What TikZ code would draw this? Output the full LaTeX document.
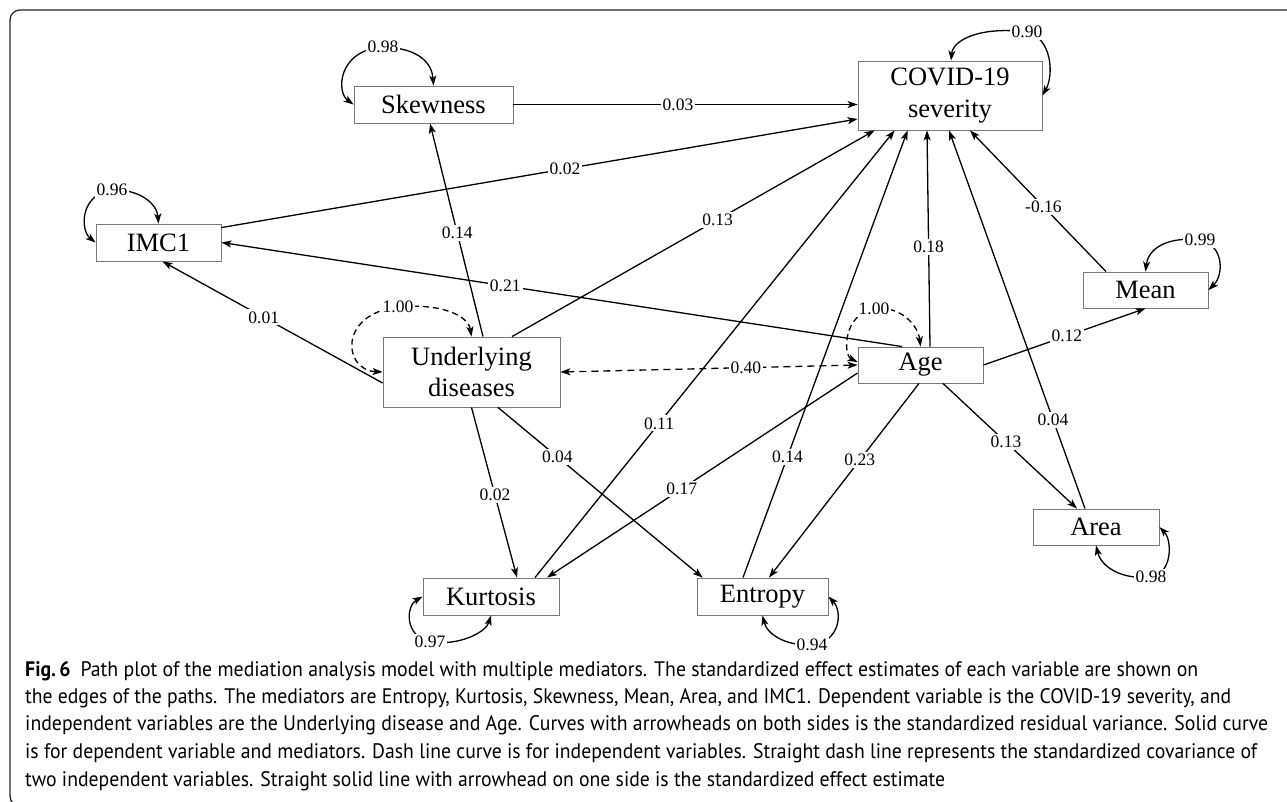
\documentclass[tikz,border=0pt]{standalone}
\usepackage{fontspec}
\setmainfont{Liberation Serif}
\newfontfamily\capfont{PT Sans}
\usepackage{graphicx}
\usetikzlibrary{arrows.meta,calc}
\tikzset{
  vbox/.style={draw={rgb,255:red,120;green,120;blue,120}, line width=0.9pt, inner sep=0pt, align=center, font=\fontsize{26.5}{31.5}\selectfont},
  lbl/.style={fill=white, inner sep=2pt, font=\fontsize{17.5}{20}\selectfont},
  eff/.style={line width=1.3pt, -{Stealth[length=10pt,width=7pt,inset=2.5pt]}},
  cov/.style={line width=1.3pt, dash pattern=on 7pt off 5pt, {Stealth[length=10pt,width=7pt,inset=2.5pt]}-{Stealth[length=10pt,width=7pt,inset=2.5pt]}},
  rv/.style={line width=1.3pt, {Stealth[length=10pt,width=7pt,inset=2.5pt]}-{Stealth[length=10pt,width=7pt,inset=2.5pt]}},
  drv/.style={rv, dash pattern=on 6pt off 4pt},
  capline/.style={anchor=base west, inner sep=0pt},
  frame/.style={line width=1.3pt, draw={rgb,255:red,40;green,40;blue,40}, rounded corners=10pt}
}
\begin{document}
\begin{tikzpicture}[x=1pt,y=-1pt]
\useasboundingbox (0,0) rectangle (1287,801);
\begin{scope}
\clip (0,0) rectangle (1287,801);
\draw[frame] (10,10) rectangle (1320,806);
\end{scope}

% nodes
\node[vbox, minimum width=184pt, minimum height=69pt] (c) at (950,95.5) {COVID-19\\severity};
\node[vbox, minimum width=159pt, minimum height=37pt] (s) at (433.5,104.5) {Skewness};
\node[vbox, minimum width=125pt, minimum height=37pt] (i) at (158.5,242.5) {IMC1};
\node[vbox, minimum width=177pt, minimum height=70pt] (u) at (471.5,372) {Underlying\\diseases};
\node[vbox, minimum width=125pt, minimum height=36pt] (a) at (920.5,365) {Age};
\node[vbox, minimum width=125pt, minimum height=36pt] (m) at (1145.5,290) {Mean};
\node[vbox, minimum width=126pt, minimum height=36pt] (ar) at (1096,527) {Area};
\node[vbox, minimum width=136pt, minimum height=37pt] (k) at (491,596.5) {Kurtosis};
\node[vbox, minimum width=131pt, minimum height=37pt] (e) at (762.5,596.5) {Entropy};

% effects
\draw[eff] (s.east) -- node[lbl,pos=0.478]{0.03} (c.west |- s.east);
\draw[eff] ([yshift=-4pt]i.north east) -- node[lbl,pos=0.54]{0.02} ([yshift=-23.5pt]c.west);
\draw[eff] ([xshift=-18.5pt]a.north) -- node[lbl,pos=0.583]{0.21} (i.east);
\draw[eff] ([yshift=-11pt]u.west) -- node[lbl,pos=0.54]{0.01} ([xshift=4pt]i.south);
\draw[eff] ([xshift=11.5pt]u.north) -- node[lbl,pos=0.486]{0.14} ([xshift=-3.5pt]s.south);
\draw[eff] ([xshift=40.5pt]u.north) -- node[lbl,pos=0.567]{0.13} ([xshift=17pt]c.south west);
\draw[cov] (u.east) -- node[lbl,pos=0.624]{0.40} (a.west);
\draw[eff] ([xshift=44pt]k.north) -- node[lbl,pos=0.345]{0.11} ([xshift=37pt]c.south west);
\draw[eff] ([yshift=-8pt]a.west) -- node[lbl,pos=0.566]{0.17} ([xshift=56pt]k.north);
\draw[eff] (u.south) -- node[lbl,pos=0.515]{0.02} ([xshift=26pt]k.north);
\draw[eff] ([xshift=26.5pt]u.south) -- node[lbl,pos=0.29]{0.04} ([xshift=6pt]e.north west);
\draw[eff] ([xshift=-19.5pt]e.north) -- node[lbl,pos=0.27]{0.14} ([xshift=50pt]c.south west);
\draw[eff] ([xshift=-1.5pt]a.south) -- node[lbl,pos=0.395]{0.23} ([xshift=6.5pt]e.north);
\draw[eff] ([xshift=9.5pt]a.north) -- node[lbl,pos=0.46]{0.18} ([xshift=-23pt]c.south);
\draw[eff] (a.east) -- node[lbl,pos=0.515]{0.12} (m.south);
\draw[eff] ([xshift=-39.5pt]m.north) -- node[lbl,pos=0.46]{-0.16} ([xshift=20pt]c.south);
\draw[eff] ([xshift=-11pt]ar.north) -- node[lbl,pos=0.235]{0.04} ([xshift=-1pt]c.south);
\draw[eff] ([xshift=22.5pt]a.south) -- node[lbl,pos=0.47]{0.13} ([xshift=-19pt]ar.north);

% residual variances
\draw[rv] ([xshift=1pt]c.north) .. controls (953,40) and (980,26) .. (1027,32) node[lbl]{0.90} .. controls (1052,38) and (1054,75) .. (c.east);
\draw[rv] (m.north) .. controls (1148,250) and (1165,236) .. (1200,240) node[lbl]{0.99} .. controls (1224,245) and (1224,275) .. (m.east);
\draw[rv] (s.west) .. controls (336,92) and (338,50) .. (383,47) node[lbl]{0.98} .. controls (420,48) and (432,64) .. (s.north);
\draw[rv] (i.west) .. controls (80,230) and (80,194) .. (112,190) node[lbl]{0.96} .. controls (140,189) and (157,204) .. (i.north);
\draw[rv] (k.west) .. controls (406,606) and (404,636) .. (430,642) node[lbl]{0.97} .. controls (460,646) and (486,632) .. (k.south);
\draw[rv] (e.south) .. controls (767,634) and (785,646) .. (812,645) node[lbl]{0.94} .. controls (840,642) and (843,612) .. (e.east);
\draw[rv] (ar.south) .. controls (1101,566) and (1120,580) .. (1151,577) node[lbl]{0.98} .. controls (1173,573) and (1172,540) .. (ar.east);
\draw[drv] (u.west) .. controls (343,370) and (338,314) .. (398,307) node[lbl]{1.00} .. controls (440,303) and (468,315) .. (u.north);
\draw[drv] ([yshift=3pt]a.west) .. controls (843,355) and (843,314) .. (874,309) node[lbl]{1.00} .. controls (900,305) and (918,325) .. (a.north);

% caption
\node[capline] (cap1) at (25,676) {\resizebox{1173pt}{\height}{\capfont\fontsize{21}{25}\selectfont\textbf{Fig.\,6}\enspace Path plot of the mediation analysis model with multiple mediators. The standardized effect estimates of each variable are shown on}};
\node[capline] (cap2) at (25,703) {\resizebox{1206pt}{\height}{\capfont\fontsize{21}{25}\selectfont the edges of the paths. The mediators are Entropy, Kurtosis, Skewness, Mean, Area, and IMC1. Dependent variable is the COVID-19 severity, and}};
\node[capline] (cap3) at (25,730) {\resizebox{1243pt}{\height}{\capfont\fontsize{21}{25}\selectfont independent variables are the Underlying disease and Age. Curves with arrowheads on both sides is the standardized residual variance. Solid curve}};
\node[capline] (cap4) at (25,758) {\resizebox{1232pt}{\height}{\capfont\fontsize{21}{25}\selectfont is for dependent variable and mediators. Dash line curve is for independent variables. Straight dash line represents the standardized covariance of}};
\node[capline] (cap5) at (25,786) {\resizebox{920pt}{\height}{\capfont\fontsize{21}{25}\selectfont two independent variables. Straight solid line with arrowhead on one side is the standardized effect estimate}};
\end{tikzpicture}
\end{document}
